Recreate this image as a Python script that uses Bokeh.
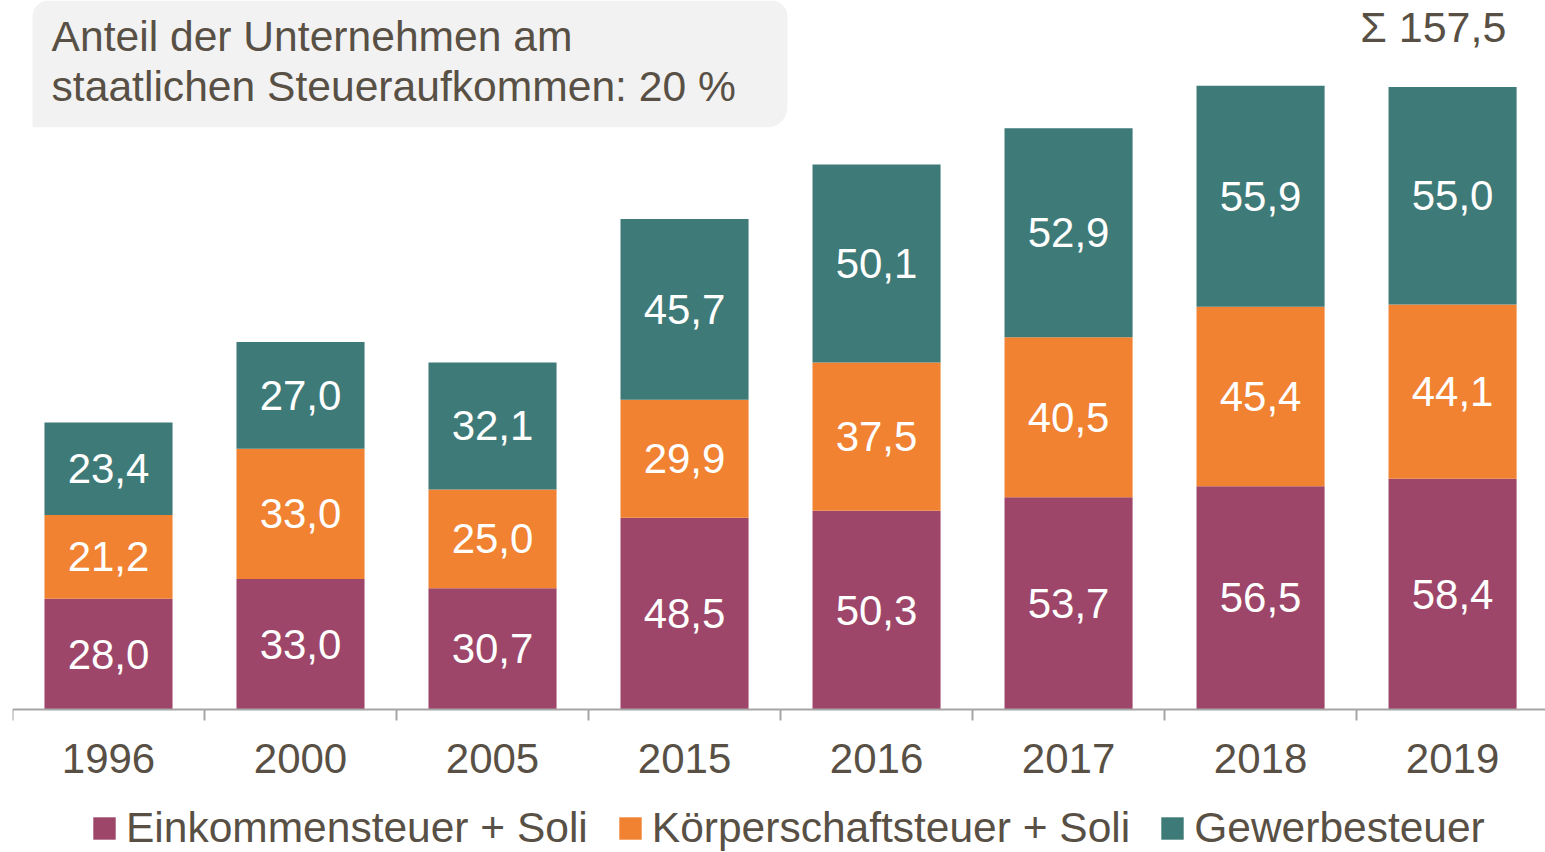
from bokeh.plotting import figure
from bokeh.models import (ColumnDataSource, FixedTicker, Legend, LegendItem, Label,
                          BoxAnnotation, LabelSet)
from bokeh.core.properties import value
from bokeh.embed import file_html
from bokeh.resources import INLINE

# ---------------- data ----------------
years = ["1996", "2000", "2005", "2015", "2016", "2017", "2018", "2019"]
einkommensteuer = [28.0, 33.0, 30.7, 48.5, 50.3, 53.7, 56.5, 58.4]
koerperschaftsteuer = [21.2, 33.0, 25.0, 29.9, 37.5, 40.5, 45.4, 44.1]
gewerbesteuer = [23.4, 27.0, 32.1, 45.7, 50.1, 52.9, 55.9, 55.0]
series_names = ["Einkommensteuer + Soli", "Körperschaftsteuer + Soli", "Gewerbesteuer"]
series_colors = ["#9e4669", "#f08232", "#3e7a78"]
title_lines = ["Anteil der Unternehmen am", "staatlichen Steueraufkommen: 20 %"]

FONT = "Liberation Sans"
TEXT_COLOR = "#595045"

def de(v):
    return f"{v:.1f}".replace(".", ",")

xs = [i + 0.5 for i in range(len(years))]
src = ColumnDataSource(dict(x=xs, years=years, ek=einkommensteuer,
                            ks=koerperschaftsteuer, gw=gewerbesteuer))

p = figure(width=1545, height=852, x_range=(0, 7.984), y_range=(-36.18, 179.4),
           output_backend="svg", toolbar_location=None, y_axis_location=None,
           min_border_left=12, min_border_right=0, min_border_top=0, min_border_bottom=0,
           outline_line_color=None, background_fill_color="white", border_fill_color="white")
p.xgrid.visible = False
p.ygrid.visible = False

# title box
box = BoxAnnotation(left=0.104, right=4.036, bottom=147.3, top=179.4,
                    fill_color="#f2f2f2", fill_alpha=1.0, line_color=None,
                    border_radius=dict(top_left=16, top_right=16, bottom_right=20, bottom_left=0),
                    level="underlay")
p.add_layout(box)
for line, yb in zip(title_lines, [170.5, 157.8]):
    p.add_layout(Label(x=0.2035, y=yb, text=line, text_font=FONT, text_font_size="42.6px",
                       text_color=TEXT_COLOR, text_baseline="alphabetic", text_align="left"))

# stacked bars
renderers = p.vbar_stack(["ek", "ks", "gw"], x="x", width=0.667, color=series_colors,
                         line_color=None, source=src)

# segment labels
lab_x, lab_y, lab_t = [], [], []
for i in range(len(years)):
    base = 0.0
    for vals in (einkommensteuer, koerperschaftsteuer, gewerbesteuer):
        v = vals[i]
        lab_x.append(xs[i])
        lab_y.append(base + v / 2)
        lab_t.append(de(v))
        base += v
lsrc = ColumnDataSource(dict(x=lab_x, y=lab_y, t=lab_t))
p.add_layout(LabelSet(x="x", y="y", text="t", source=lsrc, text_align="center",
                      text_baseline="middle", text_color="white", text_font=value(FONT),
                      text_font_size="42px"))

# total of last year
total_last = einkommensteuer[-1] + koerperschaftsteuer[-1] + gewerbesteuer[-1]
p.add_layout(Label(x=xs[-1] + 0.28, y=172.8, text="Σ " + de(total_last), text_font=FONT,
                   text_font_size="43px", text_color=TEXT_COLOR, text_align="right",
                   text_baseline="alphabetic"))

# x axis drawn at y = 0 inside the frame
ax = p.xaxis[0]
ax.fixed_location = 0
ax.ticker = FixedTicker(ticks=xs, minor_ticks=list(range(0, len(years))))
ax.major_label_overrides = {x: y for x, y in zip(xs, years)}
ax.major_tick_line_color = None
ax.major_tick_out = 11
ax.major_tick_in = 0
ax.minor_tick_line_color = "#a6a6a6"
ax.minor_tick_line_width = 2
ax.minor_tick_out = 11
ax.minor_tick_in = 0
ax.axis_line_color = "#a6a6a6"
ax.axis_line_width = 2
ax.major_label_text_font = FONT
ax.major_label_text_font_size = "42px"
ax.major_label_text_color = TEXT_COLOR
ax.major_label_standoff = 23

# legend
legend = Legend(items=[LegendItem(label=n, renderers=[r]) for n, r in zip(series_names, renderers)],
                location=(78, 0), orientation="horizontal", glyph_width=28, glyph_height=28,
                label_standoff=8, spacing=28, padding=0, margin=0,
                label_text_font=FONT, label_text_font_size="42.5px", label_text_color=TEXT_COLOR,
                border_line_color=None, background_fill_alpha=0)
p.add_layout(legend)

open("out.html", "w").write(file_html(p, INLINE))
